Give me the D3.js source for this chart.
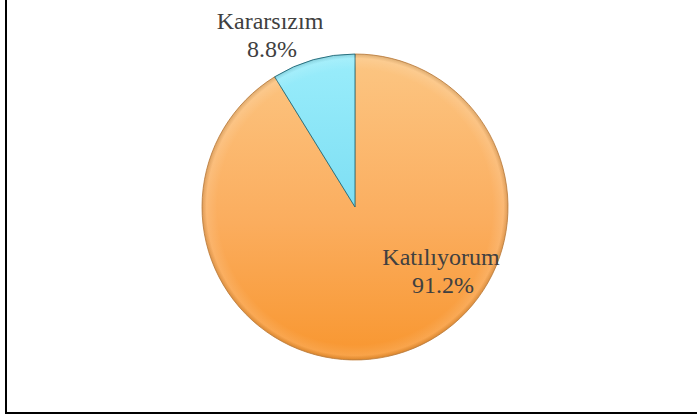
<!DOCTYPE html>
<html>
<head>
<meta charset="utf-8">
<script src="https://cdn.jsdelivr.net/npm/d3@7"></script>
<style>
  html, body { margin: 0; padding: 0; background: #ffffff; }
  svg { display: block; }
</style>
</head>
<body>
<svg id="chart" width="697" height="420"></svg>
<script>
// ---- data ----
const categories = ["Katılıyorum", "Kararsızım"];
const values = [91.2, 8.8];
const valueLabels = ["91.2%", "8.8%"];

// ---- layout ----
const W = 697, H = 420;
const cx = 355, cy = 207, R = 153;
// label anchor positions (relative to pie centre) for each slice
const labelPos = [[86, 63], [-85, -173]];

const svg = d3.select("#chart");

// frame (only left and bottom edges visible in the window)
svg.append("rect")
  .attr("x", 6).attr("y", -10)
  .attr("width", W + 20).attr("height", 423)
  .attr("fill", "none").attr("stroke", "#000").attr("stroke-width", 2);

const defs = svg.append("defs");
const gradStops = [
  [["0%", "#fcc683"], ["55%", "#fbad5e"], ["100%", "#f8962f"]],
  [["0%", "#9aedfb"], ["60%", "#78dcf2"], ["100%", "#45b9d6"]]
];
gradStops.forEach((stops, i) => {
  const g = defs.append("linearGradient")
    .attr("id", "grad" + i)
    .attr("gradientUnits", "userSpaceOnUse")
    .attr("x1", 0).attr("y1", -R).attr("x2", 0).attr("y2", R);
  stops.forEach(s => g.append("stop").attr("offset", s[0]).attr("stop-color", s[1]));
});
// soft bevel highlight
const rg = defs.append("radialGradient").attr("id", "bevel")
  .attr("gradientUnits", "userSpaceOnUse")
  .attr("cx", 0).attr("cy", 0).attr("r", R);
rg.append("stop").attr("offset", "90%").attr("stop-color", "#ffffff").attr("stop-opacity", 0);
rg.append("stop").attr("offset", "97%").attr("stop-color", "#ffffff").attr("stop-opacity", 0.12);
rg.append("stop").attr("offset", "100%").attr("stop-color", "#000000").attr("stop-opacity", 0.12);

const pie = d3.pie().sort(null).value(d => d);
const arcs = pie(values);
const arc = d3.arc().innerRadius(0).outerRadius(R);

const g = svg.append("g").attr("transform", `translate(${cx},${cy})`);
const strokeCols = ["#c98a49", "#1f6b7c"];

g.selectAll("path.slice")
  .data(arcs)
  .join("path")
  .attr("class", "slice")
  .attr("d", arc)
  .attr("fill", (d, i) => `url(#grad${i})`)
  .attr("stroke", (d, i) => strokeCols[i])
  .attr("stroke-width", 0.9)
  .attr("stroke-linejoin", "round");

g.selectAll("path.bevel")
  .data(arcs)
  .join("path")
  .attr("class", "bevel")
  .attr("d", arc)
  .attr("fill", "url(#bevel)")
  .attr("stroke", "none");

// labels
const lab = g.selectAll("text.lbl")
  .data(arcs)
  .join("text")
  .attr("class", "lbl")
  .attr("text-anchor", "middle")
  .attr("font-family", "'Liberation Serif', 'Times New Roman', serif")
  .attr("font-size", 24)
  .attr("fill", "#404040")
  .attr("transform", (d, i) => `translate(${labelPos[i][0]},${labelPos[i][1]})`);
lab.append("tspan").attr("x", 0).attr("y", -5).text((d, i) => categories[i]);
lab.append("tspan").attr("x", 2).attr("y", 23).text((d, i) => valueLabels[i]);
</script>
</body>
</html>
